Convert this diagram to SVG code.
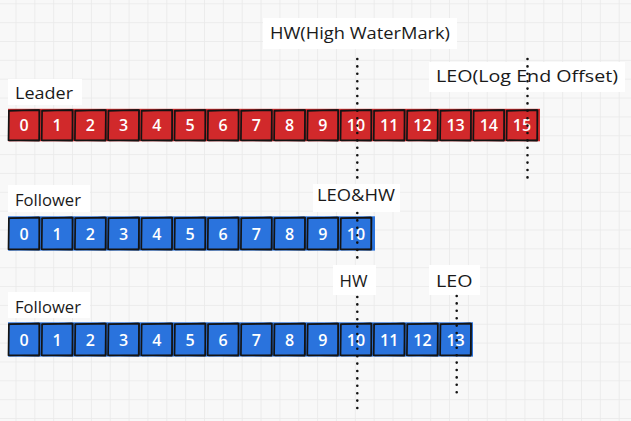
<svg xmlns="http://www.w3.org/2000/svg" xmlns:xlink="http://www.w3.org/1999/xlink" width="631" height="421" viewBox="0 0 631 421">
<defs>
<pattern id="grid" x="15.5" y="3.3" width="18.85" height="18.85" patternUnits="userSpaceOnUse">
<path d="M0,0 V18.85 M0,0 H18.85" stroke="#e9e9e9" stroke-width="1.6" fill="none"/>
</pattern>
<style>
.lbl{font-family:"Open Sans","Lato",sans-serif;font-size:17px;fill:#1a1a1a}
.box{fill:#ffffff}
.num{font-family:"Open Sans","Lato",sans-serif;font-size:16px;font-weight:600;fill:#ffffff;text-anchor:middle}
.red{fill:#d1292b}
.blue{fill:#2a73dd}
.edge{fill:none;stroke:#141414;stroke-width:1.7;stroke-linejoin:round}
.edge2{fill:none;stroke:#141414;stroke-width:0.9;opacity:0.8}
.dot{fill:none;stroke:#111;stroke-width:2.6;stroke-linecap:round;stroke-dasharray:0 7.4}
</style>
<g id="rc">
<rect class="red" x="0" y="0" width="31" height="30.5"/>
<path class="edge" d="M0.4,0.6 L31,0.1 L30.6,30.6 L0,30.2 Z"/>
<path class="edge2" d="M-0.3,1.2 L30.4,-0.4 L31.3,29.8 L0.6,30.9"/>
</g>
<g id="bc">
<rect class="blue" x="0" y="0" width="31" height="32"/>
<path class="edge" d="M0.4,0.6 L31,0.1 L30.6,32.1 L0,31.7 Z"/>
<path class="edge2" d="M-0.3,1.2 L30.4,-0.4 L31.3,31.3 L0.6,32.4"/>
</g>
</defs>
<rect width="631" height="421" fill="#f8f8f8"/>
<rect width="631" height="421" fill="url(#grid)"/>

<g id="leader-row">
<rect class="red" x="8" y="108.8" width="532" height="32.5"/>
<use href="#rc" x="8.5" y="110"/><use href="#rc" x="41.7" y="110"/><use href="#rc" x="74.9" y="110"/><use href="#rc" x="108.1" y="110"/>
<use href="#rc" x="141.3" y="110"/><use href="#rc" x="174.5" y="110"/><use href="#rc" x="207.7" y="110"/><use href="#rc" x="240.9" y="110"/>
<use href="#rc" x="274.1" y="110"/><use href="#rc" x="307.3" y="110"/><use href="#rc" x="340.5" y="110"/><use href="#rc" x="373.7" y="110"/>
<use href="#rc" x="406.9" y="110"/><use href="#rc" x="440.1" y="110"/><use href="#rc" x="473.3" y="110"/><use href="#rc" x="506.5" y="110"/>
<text class="num" x="24" y="131">0</text><text class="num" x="57.2" y="131">1</text><text class="num" x="90.4" y="131">2</text><text class="num" x="123.6" y="131">3</text>
<text class="num" x="156.8" y="131">4</text><text class="num" x="190" y="131">5</text><text class="num" x="223.2" y="131">6</text><text class="num" x="256.4" y="131">7</text>
<text class="num" x="289.6" y="131">8</text><text class="num" x="322.8" y="131">9</text><text class="num" x="356" y="131">10</text><text class="num" x="389.2" y="131">11</text>
<text class="num" x="422.4" y="131">12</text><text class="num" x="455.6" y="131">13</text><text class="num" x="488.8" y="131">14</text><text class="num" x="522" y="131">15</text>
</g>

<g id="follower1-row">
<rect class="blue" x="8" y="216.3" width="367" height="34.3"/>
<use href="#bc" x="8.5" y="217.5"/><use href="#bc" x="41.7" y="217.5"/><use href="#bc" x="74.9" y="217.5"/><use href="#bc" x="108.1" y="217.5"/>
<use href="#bc" x="141.3" y="217.5"/><use href="#bc" x="174.5" y="217.5"/><use href="#bc" x="207.7" y="217.5"/><use href="#bc" x="240.9" y="217.5"/>
<use href="#bc" x="274.1" y="217.5"/><use href="#bc" x="307.3" y="217.5"/><use href="#bc" x="340.5" y="217.5"/>
<text class="num" x="24" y="239.5">0</text><text class="num" x="57.2" y="239.5">1</text><text class="num" x="90.4" y="239.5">2</text><text class="num" x="123.6" y="239.5">3</text>
<text class="num" x="156.8" y="239.5">4</text><text class="num" x="190" y="239.5">5</text><text class="num" x="223.2" y="239.5">6</text><text class="num" x="256.4" y="239.5">7</text>
<text class="num" x="289.6" y="239.5">8</text><text class="num" x="322.8" y="239.5">9</text><text class="num" x="356" y="239.5">10</text>
</g>

<g id="follower2-row">
<rect class="blue" x="8" y="322.3" width="465" height="34.3"/>
<use href="#bc" x="8.5" y="323.5"/><use href="#bc" x="41.7" y="323.5"/><use href="#bc" x="74.9" y="323.5"/><use href="#bc" x="108.1" y="323.5"/>
<use href="#bc" x="141.3" y="323.5"/><use href="#bc" x="174.5" y="323.5"/><use href="#bc" x="207.7" y="323.5"/><use href="#bc" x="240.9" y="323.5"/>
<use href="#bc" x="274.1" y="323.5"/><use href="#bc" x="307.3" y="323.5"/><use href="#bc" x="340.5" y="323.5"/><use href="#bc" x="373.7" y="323.5"/>
<use href="#bc" x="406.9" y="323.5"/><use href="#bc" x="440.1" y="323.5"/>
<text class="num" x="24" y="345.5">0</text><text class="num" x="57.2" y="345.5">1</text><text class="num" x="90.4" y="345.5">2</text><text class="num" x="123.6" y="345.5">3</text>
<text class="num" x="156.8" y="345.5">4</text><text class="num" x="190" y="345.5">5</text><text class="num" x="223.2" y="345.5">6</text><text class="num" x="256.4" y="345.5">7</text>
<text class="num" x="289.6" y="345.5">8</text><text class="num" x="322.8" y="345.5">9</text><text class="num" x="356" y="345.5">10</text><text class="num" x="389.2" y="345.5">11</text>
<text class="num" x="422.4" y="345.5">12</text><text class="num" x="455.6" y="345.5">13</text>
</g>

<g id="label-leader"><rect class="box" x="8" y="79" width="74" height="26"/><text class="lbl" x="15" y="99.3" textLength="58" lengthAdjust="spacingAndGlyphs">Leader</text></g>
<g id="label-hw-leader"><rect class="box" x="263" y="18" width="194" height="31"/><text class="lbl" x="270" y="38.5" textLength="180" lengthAdjust="spacingAndGlyphs">HW(High WaterMark)</text></g>
<g id="label-leo-leader"><rect class="box" x="429" y="62" width="196" height="30"/><text class="lbl" x="436" y="81.7" textLength="182" lengthAdjust="spacingAndGlyphs">LEO(Log End Offset)</text></g>
<g id="label-follower1"><rect class="box" x="8" y="185" width="82" height="27"/><text class="lbl" x="15" y="206" textLength="66" lengthAdjust="spacingAndGlyphs">Follower</text></g>
<g id="label-leohw"><rect class="box" x="313" y="184" width="87" height="28"/><text class="lbl" x="317" y="200.5" textLength="78" lengthAdjust="spacingAndGlyphs">LEO&amp;HW</text></g>
<g id="label-follower2"><rect class="box" x="8" y="292" width="82" height="26"/><text class="lbl" x="15" y="313.3" textLength="66" lengthAdjust="spacingAndGlyphs">Follower</text></g>
<g id="label-hw-f2"><rect class="box" x="333" y="265" width="43" height="30"/><text class="lbl" x="339.5" y="286.7" textLength="28" lengthAdjust="spacingAndGlyphs">HW</text></g>
<g id="label-leo-f2"><rect class="box" x="429" y="265" width="51" height="30"/><text class="lbl" x="436" y="286.7" textLength="36.5" lengthAdjust="spacingAndGlyphs">LEO</text></g>

<g id="connectors">
<path class="dot" d="M357.3,59 V181"/>
<path class="dot" d="M527.5,59 V181"/>
<path class="dot" d="M357.3,213 V262"/>
<path class="dot" d="M357.3,297 V410"/>
<path class="dot" d="M456.7,296 V398"/>
</g>
</svg>
